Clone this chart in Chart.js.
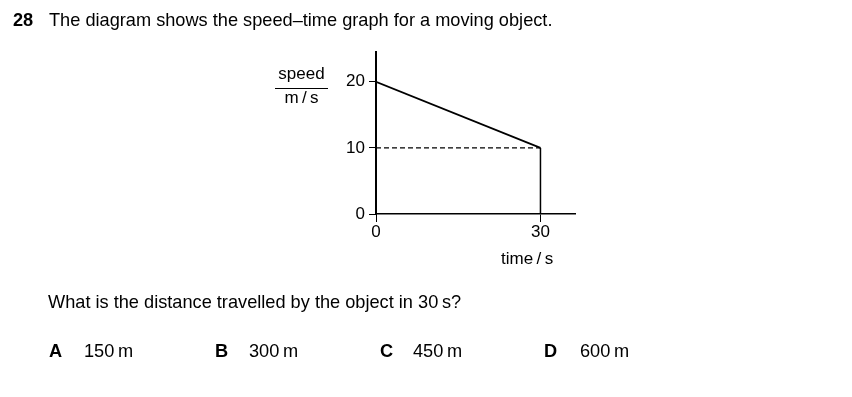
<!DOCTYPE html>
<html>
<head>
<meta charset="utf-8">
<script src="https://cdn.jsdelivr.net/npm/chart.js@4/dist/chart.umd.min.js"></script>
<style>
  html, body { margin: 0; padding: 0; background: #fff; }
  body { width: 852px; height: 397px; position: relative; overflow: hidden;
         font-family: "Liberation Sans", Arial, sans-serif; color: #000; }
  #chart { position: absolute; left: 0; top: 0; }
  .t { position: absolute; white-space: nowrap; font-size: 18.2px; line-height: 20px; }
  .s { font-size: 17px; }
  .b { font-weight: bold; }
</style>
</head>
<body>
<canvas id="chart" width="852" height="397"></canvas>

<div class="t b" style="left:13px; top:10px;">28</div>
<div class="t" style="left:49px; top:10px;">The diagram shows the speed–time graph for a moving object.</div>

<div class="t s" style="left:275px; top:64px; width:53px; text-align:center;">speed</div>
<div style="position:absolute; left:275px; top:88px; width:53px; border-top:1px solid #000;"></div>
<div class="t s" style="left:275px; top:88px; width:53px; text-align:center;">m&thinsp;/&thinsp;s</div>
<div class="t s" style="left:501px; top:249px;">time&thinsp;/&thinsp;s</div>

<div class="t" style="left:48px; top:292px;">What is the distance travelled by the object in 30&thinsp;s?</div>

<div class="t b" style="left:49px; top:341px;">A</div>
<div class="t" style="left:84px; top:341px;">150&thinsp;m</div>
<div class="t b" style="left:215px; top:341px;">B</div>
<div class="t" style="left:249px; top:341px;">300&thinsp;m</div>
<div class="t b" style="left:380px; top:341px;">C</div>
<div class="t" style="left:413px; top:341px;">450&thinsp;m</div>
<div class="t b" style="left:544px; top:341px;">D</div>
<div class="t" style="left:580px; top:341px;">600&thinsp;m</div>

<script>
// speed-time graph values
const times = [0, 30];
const speeds = [20, 10];
const xTicks = [0, 30];
const yTicks = [0, 10, 20];
const xMax = 36.3;
const yMax = 24.5;

const ink = '#000';

const slope = times.map((t, i) => ({ x: t, y: speeds[i] }));
const dashed = [{ x: times[0], y: speeds[1] }, { x: times[1], y: speeds[1] }];
const drop = [{ x: times[1], y: speeds[1] }, { x: times[1], y: 0 }];

const ctx = document.getElementById('chart').getContext('2d');

new Chart(ctx, {
  type: 'scatter',
  data: {
    datasets: [
      { data: slope, showLine: true, borderColor: ink, borderWidth: 1.7, pointRadius: 0 },
      { data: dashed, showLine: true, borderColor: ink, borderWidth: 1.1, borderDash: [5, 3], pointRadius: 0 },
      { data: drop, showLine: true, borderColor: ink, borderWidth: 1.5, pointRadius: 0 }
    ]
  },
  options: {
    responsive: false,
    animation: false,
    devicePixelRatio: 1,
    layout: { padding: { left: 336, top: 52, right: 277, bottom: 153 } },
    plugins: { legend: { display: false }, tooltip: { enabled: false } },
    scales: {
      x: {
        type: 'linear',
        min: 0,
        max: xMax,
        afterBuildTicks: s => { s.ticks = xTicks.map(v => ({ value: v })); },
        afterFit: s => { s.height = 30; },
        border: { display: true, color: ink, width: 1.5 },
        grid: { drawOnChartArea: false, drawTicks: true, tickLength: 8, color: ink, lineWidth: 1 },
        ticks: { color: ink, padding: 0, font: { family: 'Liberation Sans, Arial', size: 17 } }
      },
      y: {
        type: 'linear',
        min: 0,
        max: yMax,
        afterBuildTicks: s => { s.ticks = yTicks.map(v => ({ value: v })); },
        afterFit: s => { s.width = 40; },
        border: { display: true, color: ink, width: 2 },
        grid: { drawOnChartArea: false, drawTicks: true, tickLength: 7, color: ink, lineWidth: 1 },
        ticks: { color: ink, padding: 4, font: { family: 'Liberation Sans, Arial', size: 17 } }
      }
    }
  }
});
</script>
</body>
</html>
